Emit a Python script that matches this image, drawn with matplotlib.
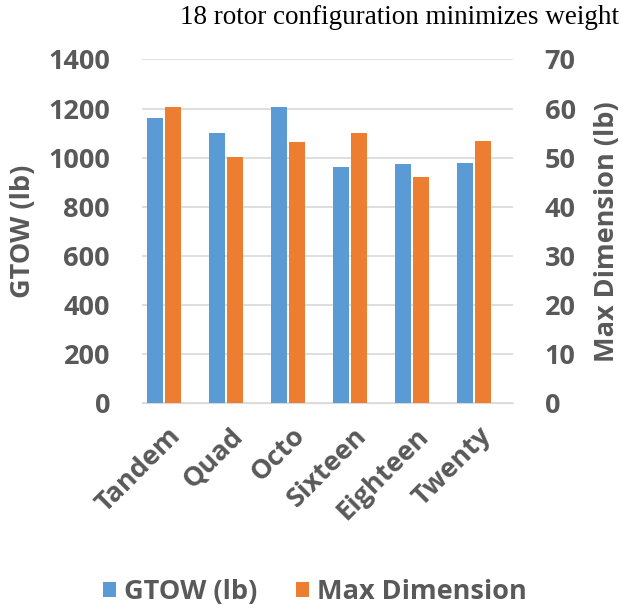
import matplotlib.pyplot as plt
import numpy as np

configs = ["Tandem", "Quad", "Octo", "Sixteen", "Eighteen", "Twenty"]
gtow_lb = [1160, 1100, 1206, 962, 975, 978]
max_dim = [60.3, 50.1, 53.2, 55.1, 46.1, 53.4]

blue = "#5B9BD5"
orange = "#ED7D31"
grey = "#595959"
font = "Open Sans"
fs = 19.5

fig = plt.figure(figsize=(6.21, 6.13), dpi=100)
ax = fig.add_axes([0.2287, 0.342, 0.597, 0.561])
ax2 = ax.twinx()

x = np.arange(len(configs))
w = 0.26
b1 = ax.bar(x - 0.145, gtow_lb, w, color=blue, label="GTOW (lb)", zorder=3)
b2 = ax2.bar(x + 0.145, max_dim, w, color=orange, label="Max Dimension", zorder=3)

ax.set_xlim(-0.35, 5.62)
ax.set_ylim(0, 1400)
ax2.set_ylim(0, 70)
ax.set_yticks(range(0, 1401, 200))
ax2.set_yticks(range(0, 71, 10))
ax.grid(axis="y", color="#D9D9D9", lw=1.2, zorder=0)

for a in (ax, ax2):
    for s in a.spines.values():
        s.set_visible(False)
    a.tick_params(length=0, labelsize=fs, labelcolor=grey)
    for lbl in a.get_yticklabels():
        lbl.set_fontfamily(font)
        lbl.set_fontweight("bold")
ax.spines["bottom"].set_visible(True)
ax.spines["bottom"].set_color("#D9D9D9")
ax.tick_params(axis="y", pad=23)
ax2.tick_params(axis="y", pad=23)

# category labels sit a little right of each bar pair
ax.set_xticks(x + 0.06)
ax.set_xticklabels(configs, rotation=45, ha="right", rotation_mode="anchor",
                   fontfamily=font, fontweight="bold", fontsize=fs, color=grey)
ax.tick_params(axis="x", pad=14)

ax.set_ylabel("GTOW (lb)", fontfamily=font, fontweight="bold", fontsize=fs,
              color=grey, labelpad=9)
ax2.set_ylabel("Max Dimension (lb)", fontfamily=font, fontweight="bold",
               fontsize=fs, color=grey, labelpad=13)

fig.text(0.644, 0.971, "18 rotor configuration minimizes weight",
         family="Liberation Serif", fontsize=19.5, ha="center", va="center",
         color="black")

leg = fig.legend([b1, b2], ["GTOW (lb)", "Max Dimension"], loc="center",
                 bbox_to_anchor=(0.507, 0.034), ncol=2, frameon=False,
                 handlelength=0.5, handleheight=0.5, handletextpad=0.3,
                 columnspacing=1.4,
                 prop={"family": font, "weight": "bold", "size": fs})
for t in leg.get_texts():
    t.set_color(grey)

fig.savefig("out.png", dpi=100)
